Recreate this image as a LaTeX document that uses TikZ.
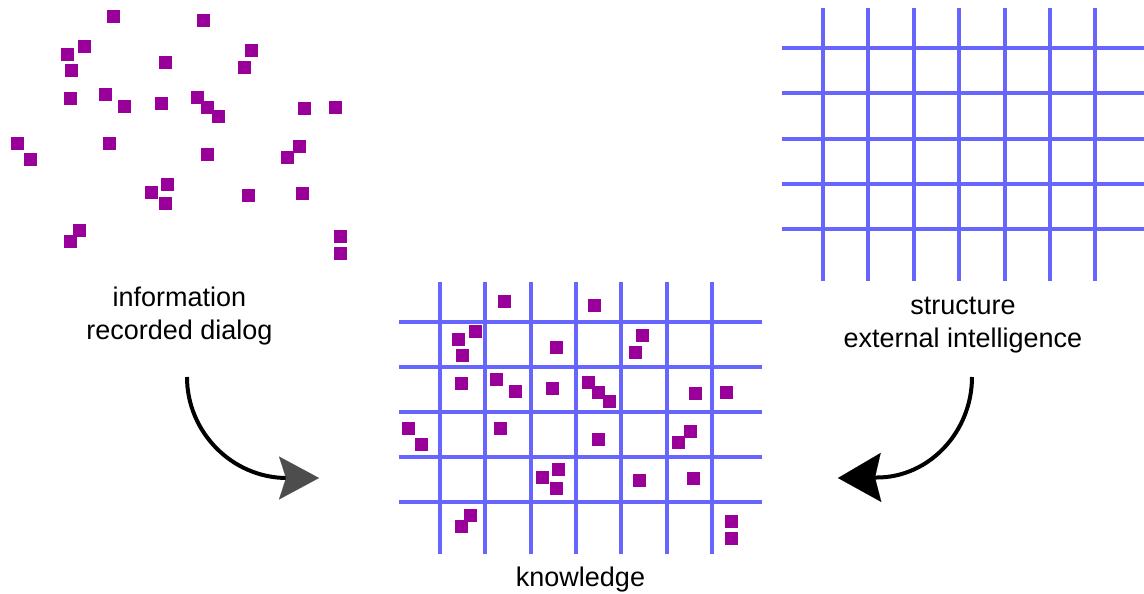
\documentclass[tikz,border=0pt]{standalone}
\usepackage{fontspec}
\setmainfont{Liberation Sans}
\usetikzlibrary{arrows.meta}

\definecolor{bitcolor}{HTML}{990099}
\definecolor{gridcolor}{HTML}{6666FF}
\definecolor{headgray}{HTML}{4D4D4D}

\tikzset{
  bit/.style={fill=bitcolor},
  gridline/.style={draw=gridcolor, line width=4pt},
  caption/.style={font=\fontsize{27}{32.5}\selectfont, align=center, inner sep=0pt},
  flow/.style={draw=black, line width=4pt},
  % loose pieces of information
  scatter/.pic={
    \foreach \px/\py in {113.5/16.5,203.5/20.5,84.5/46.5,67.5/54.5,71.5/70.5,
        165.5/62.5,251.5/50.5,244.5/67.5,70.5/98.5,105.5/94.5,124.5/106.5,
        161.5/103.5,197.5/97.5,207.5/107.5,218.5/116.5,304.5/108.5,335.5/107.5,
        17.5/143.5,30.5/159.5,109.5/143.5,207.5/154.5,299.5/146.5,287.5/157.5,
        167.5/184.5,151.5/192.5,165.5/203.5,248.5/195.5,302.5/193.5,
        79.5/230.5,70.5/241.5,340.5/236.5,340.5/253.5}
      \fill[bit] (\px-6.5,\py-6.5) rectangle ++(13,13);
  },
  % the ordering lattice
  lattice/.pic={
    \foreach \i in {0,...,6}
      \draw[gridline] (41+45.4*\i,0) -- ++(0,272.7);
    \foreach \j in {0,...,4}
      \draw[gridline] (0,40+45.1*\j) -- ++(363,0);
  }
}

\begin{document}
\begin{tikzpicture}[x=1pt,y=-1pt]
  \useasboundingbox (0,0) rectangle (1144,594);

  % information: scattered bits
  \pic (infobits) at (0,0) {scatter};
  % structure: empty lattice
  \pic (structgrid) at (782,8.3) {lattice};
  % knowledge: bits placed on the lattice
  \pic (knowgrid) at (398.7,281.7) {lattice};
  \pic (knowbits) at (391,285) {scatter};

  % labels
  \node[caption] (info) at (179.5,316) {information\\recorded dialog};
  \node[caption] (struct) at (963,325) {structure\\external intelligence};
  \node[caption, anchor=base] (know) at (580.5,586.5) {knowledge};

  % connectors
  \coordinate (infoOut) at (187,377);
  \coordinate (infoBend) at (287,478);
  \coordinate (infoIn) at (319,478);
  \draw[flow, -{Stealth[length=40pt,width=43pt,inset=7pt,color=headgray,line width=0.01pt]}]
    (infoOut) .. controls +(0,55) and +(-55,0) .. (infoBend) -- (infoIn);

  \coordinate (structOut) at (972,377);
  \coordinate (structBend) at (877,477.5);
  \coordinate (structIn) at (838,478);
  \draw[flow, -{Stealth[length=43pt,width=49pt,inset=6pt,color=black,line width=0.01pt]}]
    (structOut) .. controls +(0,55) and +(52,0) .. (structBend) -- (structIn);
\end{tikzpicture}
\end{document}
